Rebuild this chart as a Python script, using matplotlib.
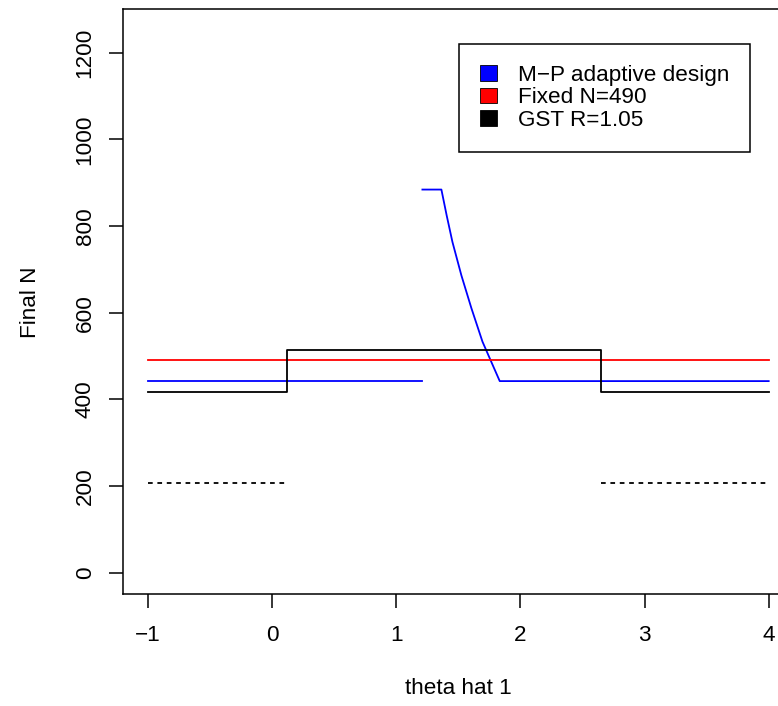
import matplotlib
matplotlib.use("Agg")
import matplotlib.pyplot as plt
from matplotlib.patches import Patch

plt.rcParams["font.family"] = ["Liberation Sans", "DejaVu Sans"]
plt.rcParams["axes.unicode_minus"] = True

# values
blue_left_x = [-1.0, 1.21]
blue_left_y = [442, 442]
blue_right_x = [1.21, 1.363, 1.405, 1.452, 1.524, 1.605, 1.694, 1.758, 1.833, 4.0]
blue_right_y = [884, 884, 825, 763, 686, 610, 533, 491, 442, 442]

fixed_x = [-1.0, 4.0]
fixed_y = [490, 490]

gst_x = [-1.0, 0.123, 0.123, 2.65, 2.65, 4.0]
gst_y = [416, 416, 514, 514, 416, 416]

interim_left_x = [-1.0, 0.123]
interim_right_x = [2.65, 4.0]
interim_y = [208, 208]

legend_labels = ["M\u2212P adaptive design", "Fixed N=490", "GST R=1.05"]
legend_colors = ["#0000ff", "#ff0000", "#000000"]

x_ticks = [-1, 0, 1, 2, 3, 4]
y_ticks = [0, 200, 400, 600, 800, 1000, 1200]

FS = 16.2
W, H = 778, 706


def main():
  fig = plt.figure(figsize=(W / 100, H / 100), dpi=100)
  # plot box; right edge falls outside the picture like in the reference
  left, right, top, bottom = 123.3, 793.5, 9.3, 594.3
  ax = fig.add_axes([left / W, 1 - bottom / H, (right - left) / W, (bottom - top) / H])

  lw = 1.3
  dash = (0, (2.6, 2.6))
  ax.plot(blue_left_x, blue_left_y, color="#0000ff", lw=lw)
  ax.plot(blue_right_x, blue_right_y, color="#0000ff", lw=lw)
  ax.plot(fixed_x, fixed_y, color="#ff0000", lw=lw)
  ax.plot(gst_x, gst_y, color="black", lw=lw)
  ax.plot(interim_left_x, interim_y, color="black", lw=lw, ls=dash)
  ax.plot(interim_right_x, interim_y, color="black", lw=lw, ls=dash)

  ax.set_xlim(-1.2, 4.2)
  ax.set_ylim(-50, 1300)
  ax.set_xticks(x_ticks)
  ax.set_yticks(y_ticks)
  ax.tick_params(axis="both", direction="out", length=10.1, width=1.1,
                 colors="black", labelsize=FS)
  ax.tick_params(axis="x", pad=12.1)
  ax.tick_params(axis="y", pad=9.8)
  for lab in ax.get_yticklabels():
    lab.set_rotation(90)
    lab.set_va("center")
  for sp in ax.spines.values():
    sp.set_linewidth(1.1)
    sp.set_color("black")

  ax.set_xlabel("theta hat 1", fontsize=FS, labelpad=22.9)
  ax.set_ylabel("Final N", fontsize=FS, labelpad=24)

  handles = [Patch(facecolor=c, edgecolor="black", linewidth=0.6) for c in legend_colors]
  leg = ax.legend(handles, legend_labels, loc="upper left",
                  bbox_to_anchor=(459 / W, 1 - 44 / H), bbox_transform=fig.transFigure,
                  borderaxespad=0, fontsize=FS, fancybox=False, framealpha=1,
                  edgecolor="black", handlelength=0.75, handleheight=0.68,
                  handletextpad=0.95, labelspacing=0.07, borderpad=0.92)
  leg.get_frame().set_linewidth(1.1)

  fig.savefig("out.png", dpi=100)


if __name__ == "__main__":
  main()
